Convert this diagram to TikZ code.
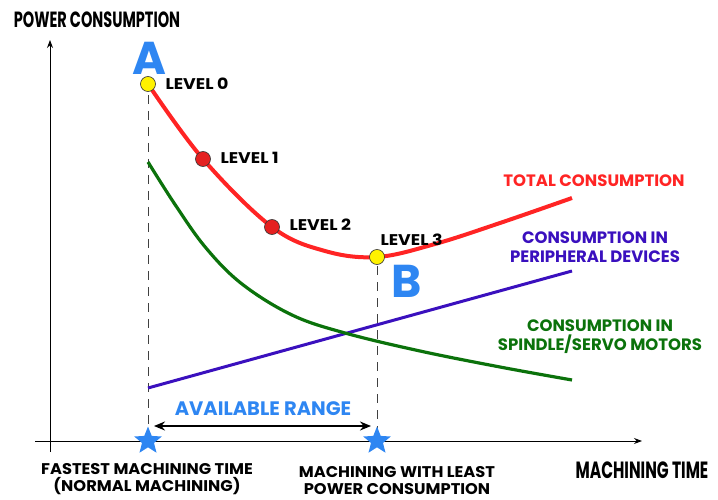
\documentclass[tikz,border=0pt]{standalone}
\usepackage{fontspec}
\setmainfont{Poppins}
\newfontfamily\axisfont[FakeStretch=0.66]{Poppins}
\newfontfamily\levelfont[FakeStretch=1.12]{Poppins}
\newfontfamily\endfont[FakeStretch=1.05]{Poppins}
\usetikzlibrary{arrows.meta,shapes.geometric}

\definecolor{markblue}{HTML}{2E86F2}
\definecolor{totalred}{HTML}{FF2424}
\definecolor{periblue}{HTML}{3A10BE}
\definecolor{motorgreen}{HTML}{0B720B}

\begin{document}
\begin{tikzpicture} [
    x=1pt, y=-1pt,
    axis/.style={line width=1pt,-{Stealth[length=8pt,width=6pt]}},
    axislabel/.style={font=\axisfont\bfseries\fontsize{22}{22}\selectfont},
    levellabel/.style={font=\levelfont\bfseries\fontsize{15.5}{16}\selectfont, anchor=west},
    dot/.style={circle,draw=black!80,line width=0.6pt,minimum size=15pt,inner sep=0pt},
    guide/.style={dashed,dash pattern=on 9pt off 7pt,line width=0.7pt,black!75},
    curvelabel/.style={font=\bfseries\fontsize{16.5}{19}\selectfont,align=center},
    endlabel/.style={font=\endfont\bfseries\fontsize{15.5}{17}\selectfont,align=center},
    pointletter/.style={font=\bfseries\fontsize{46}{46}\selectfont,text=markblue},
    starmark/.style={star,star points=5,star point ratio=2.3,fill=markblue,minimum size=29pt,inner sep=0pt},
    ]
    \useasboundingbox (0,0) rectangle (718,500);
    % Axes
    \coordinate (origin) at (50,441);
    \coordinate (ytop) at (50,40);
    \coordinate (ybot) at (50,452);
    \coordinate (xleft) at (35,441);
    \coordinate (xright) at (642,441);
    \draw[axis] (ybot) -- (ytop);
    \draw[axis] (xleft) -- (xright);
    \node[axislabel] (ylab) at (97,20) {POWER CONSUMPTION};
    \node[axislabel,font=\axisfont\bfseries\fontsize{23.5}{23}\selectfont] (xlab) at (642,470) {MACHINING TIME};

    % Level points on the total curve
    \coordinate (l0) at (148,84);
    \coordinate (l1) at (203,159);
    \coordinate (l2) at (272,227);
    \coordinate (l3) at (377,257);

    % Dashed guides and range
    \coordinate (sa) at (148,441);
    \coordinate (sb) at (377,441);
    \draw[guide] (148,95) -- (sa);
    \draw[guide] (377,266) -- (sb);
    \coordinate (ra) at (154,426);
    \coordinate (rb) at (371,426);
    \draw[line width=1.6pt,{Stealth[length=11pt,width=9pt]}-{Stealth[length=11pt,width=9pt]}] (ra) -- (rb);
    \node[font=\bfseries\fontsize{19.5}{19}\selectfont,text=markblue] (range) at (263,409) {AVAILABLE RANGE};

    % Peripheral devices
    \coordinate (p0) at (148,388);
    \coordinate (p1) at (572,271);
    \draw[periblue,line width=3pt] (p0) -- (p1);

    % Spindle / servo motors
    \draw[motorgreen,line width=3.2pt] plot[smooth,tension=0.6] coordinates
      {(148,162) (176,206) (206,248) (242,284) (292,315) (345,333) (420,351) (500,367) (572,380)};

    % Total consumption
    \draw[totalred,line width=4pt] plot[smooth,tension=0.6] coordinates
      {(l0) (l1) (l2) (325,251) (l3) (435,244) (500,223) (572,198)};

    % Level dots
    \node[dot,fill=yellow] (d0) at (l0) {};
    \node[dot,fill=totalred!90!black] (d1) at (l1) {};
    \node[dot,fill=totalred!90!black] (d2) at (l2) {};
    \node[dot,fill=yellow] (d3) at (l3) {};
    \node[levellabel] (t0) at (162,84) {LEVEL 0};
    \node[levellabel] (t1) at (217,158) {LEVEL 1};
    \node[levellabel] (t2) at (286,225) {LEVEL 2};
    \node[levellabel] (t3) at (377,240) {LEVEL 3};

    % A and B
    \node[pointletter] (ma) at (149,58) {A};
    \node[pointletter] (mb) at (407,281) {B};

    % Stars
    \node[starmark] (stara) at (sa) {};
    \node[starmark] (starb) at (sb) {};

    % Curve labels
    \node[curvelabel,text=totalred] (ltot) at (594,181) {TOTAL CONSUMPTION};
    \node[curvelabel,text=periblue] (lper) at (595,247) {CONSUMPTION IN\\PERIPHERAL DEVICES};
    \node[curvelabel,text=motorgreen] (lmot) at (600,337) {CONSUMPTION IN\\SPINDLE/SERVO MOTORS};

    % Bottom labels
    \node[endlabel,anchor=south,inner ysep=2pt] (fast) at (147,497) {FASTEST MACHINING TIME\\(NORMAL MACHINING)};
    \node[endlabel,anchor=south,inner ysep=2pt] (least) at (397,497) {MACHINING WITH LEAST\\POWER CONSUMPTION};
  \end{tikzpicture}
\end{document}
